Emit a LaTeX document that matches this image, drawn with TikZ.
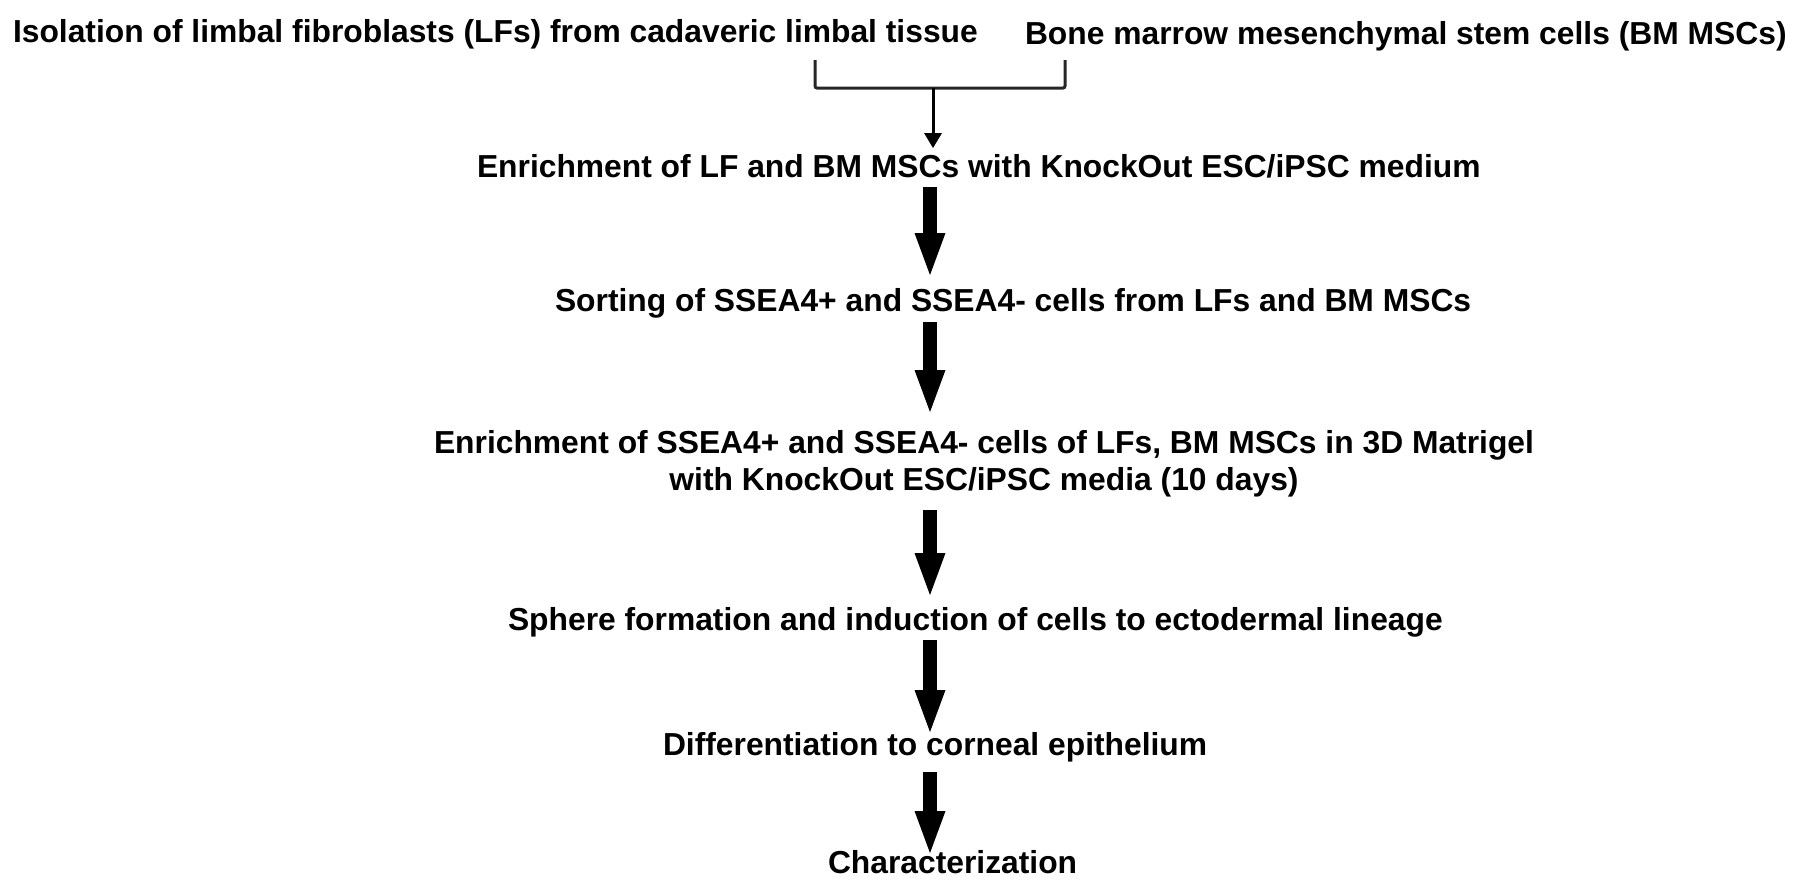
\documentclass[tikz,border=0pt]{standalone}
\usepackage{fontspec}
\setmainfont{Liberation Sans}
\usetikzlibrary{arrows.meta}
\begin{document}
\begin{tikzpicture}[x=1pt,y=-1pt,
  lbl/.style={inner sep=0pt, outer sep=0pt, anchor=base west, font=\fontsize{31.8}{37}\selectfont\bfseries},
  bigarrow/.style={line width=14pt, -{Triangle[width=31pt,length=42pt,line width=0pt]}},
  thinarrow/.style={line width=3pt, -{Triangle[width=18pt,length=15pt,line width=0pt]}},
  bracket/.style={line width=3pt, rounded corners=2pt, draw=black!85}]
\fill[white] (0,0) rectangle (1800,889);
\useasboundingbox (0,0) rectangle (1800,889);

% texts
\node[lbl] (iso) at (13,42) {Isolation of limbal fibroblasts (LFs) from cadaveric limbal tissue};
\node[lbl] (bm) at (1025,44) {Bone marrow mesenchymal stem cells (BM MSCs)};
\node[lbl] (enr) at (477,177) {Enrichment of LF and BM MSCs with KnockOut ESC/iPSC medium};
\node[lbl] (sort) at (555,311) {Sorting of SSEA4+ and SSEA4- cells from LFs and BM MSCs};
\node[lbl, anchor=base, align=center] (mat) at (984,490) {Enrichment of SSEA4+ and SSEA4- cells of LFs, BM MSCs in 3D Matrigel\\with KnockOut ESC/iPSC media (10 days)};
\node[lbl] (sph) at (508,630) {Sphere formation and induction of cells to ectodermal lineage};
\node[lbl] (diff) at (663,755) {Differentiation to corneal epithelium};
\node[lbl] (char) at (828,873) {Characterization};

% bracket joining the two sources
\coordinate (bL) at (815,60);
\coordinate (bLb) at (815,88);
\coordinate (bRb) at (1065,88);
\coordinate (bR) at (1065,60);
\coordinate (bJ) at (933,88);
\coordinate (enrT) at (933,148);
\draw[bracket] (bL) -- (bLb) -- (bRb) -- (bR);
\draw[thinarrow] (bJ) -- (enrT);

% thick arrows
\coordinate (a1s) at (930,187); \coordinate (a1e) at (930,275);
\coordinate (a2s) at (930,322); \coordinate (a2e) at (930,412);
\coordinate (a3s) at (930,510); \coordinate (a3e) at (930,595);
\coordinate (a4s) at (930,640); \coordinate (a4e) at (930,732);
\coordinate (a5s) at (930,772); \coordinate (a5e) at (930,853);
\draw[bigarrow] (a1s) -- (a1e);
\draw[bigarrow] (a2s) -- (a2e);
\draw[bigarrow] (a3s) -- (a3e);
\draw[bigarrow] (a4s) -- (a4e);
\draw[bigarrow] (a5s) -- (a5e);
\end{tikzpicture}
\end{document}
